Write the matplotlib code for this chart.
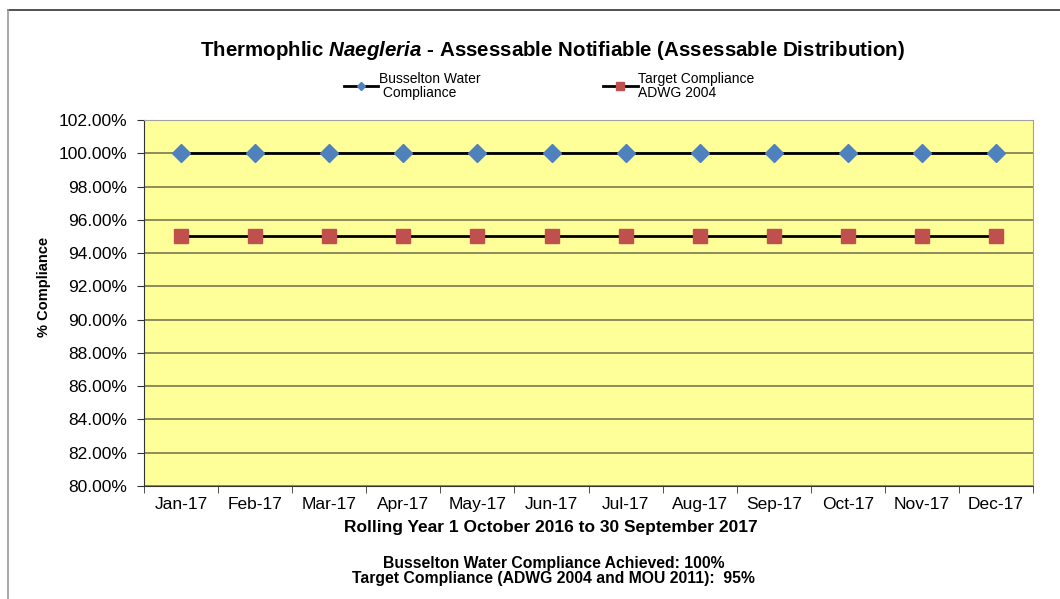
import matplotlib
matplotlib.use("Agg")
from matplotlib import pyplot as plt
from matplotlib.lines import Line2D
from matplotlib.ticker import FuncFormatter, MultipleLocator

months = ["Jan-17", "Feb-17", "Mar-17", "Apr-17", "May-17", "Jun-17",
          "Jul-17", "Aug-17", "Sep-17", "Oct-17", "Nov-17", "Dec-17"]
busselton = [100, 100, 100, 100, 100, 100, 100, 100, 100, 100, 100, 100]
target = [95, 95, 95, 95, 95, 95, 95, 95, 95, 95, 95, 95]

plt.rcParams['font.family'] = ['Liberation Sans', 'DejaVu Sans']
plt.rcParams['mathtext.fontset'] = 'custom'
plt.rcParams['mathtext.it'] = 'Liberation Sans:italic:bold'
plt.rcParams['mathtext.rm'] = 'Liberation Sans:bold'

fig = plt.figure(figsize=(10.6, 5.99), dpi=100)
ax = fig.add_axes([0.136, 0.1886, 0.8385, 0.6111])
ax.set_facecolor('#ffff99')

x = list(range(len(months)))
ax.plot(x, busselton, color='black', lw=2, marker='D', ms=9,
        mfc='#4f81bd', mec='#4f81bd', zorder=3)
ax.plot(x, target, color='black', lw=2, marker='s', ms=10,
        mfc='#c0504d', mec='#c0504d', zorder=3)

ax.set_xlim(-0.5, 11.5)
ax.set_ylim(80, 102)
ax.yaxis.set_major_locator(MultipleLocator(2))
ax.yaxis.set_major_formatter(FuncFormatter(lambda v, p: f"{v:.2f}%"))
ax.set_xticks(x)
ax.set_xticklabels(months)
ax.set_xticks([i - 0.5 for i in range(13)], minor=True)
ax.tick_params(axis='x', which='major', length=0, pad=8, labelsize=12.5)
ax.tick_params(axis='x', which='minor', length=5, direction='out', color='#333333')
ax.tick_params(axis='y', length=5, direction='out', labelsize=12.5, pad=7, color='#333333')
ax.grid(axis='y', color='#6e6c4a', lw=1.1)
ax.set_axisbelow(True)

for s in ['top', 'right']:
    ax.spines[s].set_color('#a0a0a0')
for s in ['left', 'bottom']:
    ax.spines[s].set_color('#333333')

ax.set_ylabel("% Compliance", fontsize=10.5, fontweight='bold')
ax.yaxis.set_label_coords(-0.105, 0.545)

fig.text(0.52, 0.12, "Rolling Year 1 October 2016 to 30 September 2017",
         ha='center', va='center', fontsize=12.5, fontweight='bold')

fig.text(0.521, 0.916, r"Thermophlic $\it{Naegleria}$ - Assessable Notifiable (Assessable Distribution)",
         ha='center', va='center', fontsize=14.8, fontweight='bold')

h1 = Line2D([], [], color='black', lw=2, marker='D', ms=4, mfc='#4f81bd', mec='#4f81bd')
h2 = Line2D([], [], color='black', lw=2, marker='s', ms=5.5, mfc='#c0504d', mec='#c0504d')
leg = fig.legend([h1, h2], ["Busselton Water\n Compliance", "Target Compliance\nADWG 2004"],
                 loc='center', bbox_to_anchor=(0.518, 0.857), ncol=2, frameon=False,
                 fontsize=10, handlelength=2.5, handletextpad=0.05, columnspacing=8.8,
                 labelspacing=0)
for t in leg.get_texts():
    t.set_linespacing(1.0)

fig.text(0.522, 0.047, "Busselton Water Compliance Achieved: 100%\nTarget Compliance (ADWG 2004 and MOU 2011):  95%",
         ha='center', va='center', fontsize=11.3, fontweight='bold', linespacing=1.0)

# outer frame lines
fig.add_artist(Line2D([0.0075, 1.0], [0.983, 0.983], color='#333333', lw=1.2))
fig.add_artist(Line2D([0.0075, 0.0075], [0.0, 0.983], color='#999999', lw=1.2))

fig.savefig("out.png", dpi=100)
